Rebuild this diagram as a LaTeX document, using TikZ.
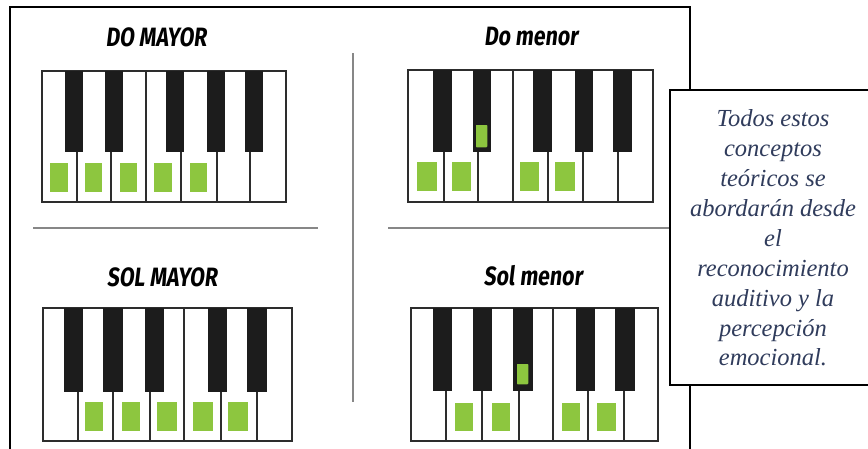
\documentclass[tikz,border=0pt]{standalone}
\usepackage{fontspec}
\newfontfamily\titlefont[FakeStretch=0.8,FakeSlant=0.12]{Fira Sans}
\newfontfamily\notefont{Liberation Serif}
\definecolor{keygreen}{RGB}{141,198,63}
\definecolor{keyblack}{RGB}{28,28,28}
\definecolor{keyline}{RGB}{45,45,45}
\definecolor{divgray}{RGB}{135,135,135}
\definecolor{noteblue}{RGB}{48,60,92}

\begin{document}
\begin{tikzpicture}[x=1pt,y=-1pt]
\tikzset{
  frame/.style={draw=black,line width=2.4pt},
  divider/.style={draw=divgray,line width=1.4pt},
  keyboard/.style={draw=keyline,line width=2pt,fill=white},
  keysep/.style={draw=keyline,line width=1.6pt},
  blackkey/.style={fill=keyblack},
  markwhite/.style={fill=keygreen},
  markblack/.style={fill=keygreen,draw=keyblack,line width=1.5pt,rounded corners=1pt},
  keytitle/.style={font=\titlefont\bfseries\fontsize{26.5}{30}\selectfont,text=black},
  notebox/.style={draw=black,line width=2pt,fill=white},
  notetext/.style={align=center,text=noteblue,font=\notefont\itshape\fontsize{24.5}{29.9}\selectfont}
}
\useasboundingbox (0,0) rectangle (868,448);
\draw[frame] (10,470) -- (10,7) -- (690,7) -- (690,470);
\draw[divider] (353,53) -- (353,402);
\draw[divider] (33,228) -- (318,228);
\draw[divider] (388,228) -- (672,228);
\node[keytitle] (t_domay) at (156,37) {DO MAYOR};
\node[keytitle] (t_domen) at (531,37) {Do menor};
\node[keytitle] (t_solmay) at (162,277) {SOL MAYOR};
\node[keytitle] (t_solmen) at (533,276) {Sol menor};
% DO MAYOR
\draw[keyboard] (42,71) rectangle (286,202);
\draw[keysep] (77,71) -- (77,202) (111,71) -- (111,202) (146,71) -- (146,202)
  (181,71) -- (181,202) (217,71) -- (217,202) (250,71) -- (250,202);
\fill[blackkey] (65,71) rectangle (83,152);
\fill[blackkey] (105,71) rectangle (123,152);
\fill[blackkey] (166,71) rectangle (184,152);
\fill[blackkey] (207,71) rectangle (225,152);
\fill[blackkey] (245,71) rectangle (263,152);
\fill[markwhite] (50,163) rectangle (68,192);
\fill[markwhite] (85,163) rectangle (102,192);
\fill[markwhite] (120,163) rectangle (137,192);
\fill[markwhite] (154,163) rectangle (172,192);
\fill[markwhite] (190,163) rectangle (207,192);
% Do menor
\draw[keyboard] (408,70) rectangle (653,202);
\draw[keysep] (444,70) -- (444,202) (478,70) -- (478,202) (513,70) -- (513,202)
  (548,70) -- (548,202) (583,70) -- (583,202) (618,70) -- (618,202);
\fill[blackkey] (433,70) rectangle (452,152);
\fill[blackkey] (473,70) rectangle (491,152);
\fill[blackkey] (533,70) rectangle (552,152);
\fill[blackkey] (575,70) rectangle (593,152);
\fill[blackkey] (613,70) rectangle (632,152);
\fill[markwhite] (417,162) rectangle (437,191);
\fill[markwhite] (452,162) rectangle (471,191);
\fill[markwhite] (520,162) rectangle (539,191);
\fill[markwhite] (555,162) rectangle (575,191);
\draw[markblack] (475,124) rectangle (488,148);
% SOL MAYOR
\draw[keyboard] (43,308) rectangle (292,441);
\draw[keysep] (78,308) -- (78,441) (113,308) -- (113,441) (150,308) -- (150,441)
  (184,308) -- (184,441) (221,308) -- (221,441) (257,308) -- (257,441);
\fill[blackkey] (64,308) rectangle (83,392);
\fill[blackkey] (103,308) rectangle (123,392);
\fill[blackkey] (145,308) rectangle (164,392);
\fill[blackkey] (208,308) rectangle (227,392);
\fill[blackkey] (247,308) rectangle (267,392);
\fill[markwhite] (85,402) rectangle (103,431);
\fill[markwhite] (122,402) rectangle (140,431);
\fill[markwhite] (157,402) rectangle (177,431);
\fill[markwhite] (193,402) rectangle (213,431);
\fill[markwhite] (228,402) rectangle (248,431);
% Sol menor
\draw[keyboard] (411,308) rectangle (658,441);
\draw[keysep] (446,308) -- (446,441) (482,308) -- (482,441) (519,308) -- (519,441)
  (553,308) -- (553,441) (588,308) -- (588,441) (624,308) -- (624,441);
\fill[blackkey] (433,308) rectangle (452,391);
\fill[blackkey] (473,308) rectangle (492,391);
\fill[blackkey] (513,308) rectangle (533,391);
\fill[blackkey] (576,308) rectangle (595,391);
\fill[blackkey] (615,308) rectangle (635,391);
\fill[markwhite] (455,403) rectangle (473,431);
\fill[markwhite] (492,403) rectangle (510,431);
\fill[markwhite] (562,403) rectangle (580,431);
\fill[markwhite] (597,403) rectangle (616,431);
\draw[markblack] (516,363) rectangle (529,385);
% note at the side
\draw[notebox] (670,90) rectangle (885,385);
\node[notetext] (note) at (773,238) {Todos estos\\conceptos\\teóricos se\\abordarán desde\\el\\reconocimiento\\auditivo y la\\percepción\\emocional.};
\end{tikzpicture}
\end{document}
